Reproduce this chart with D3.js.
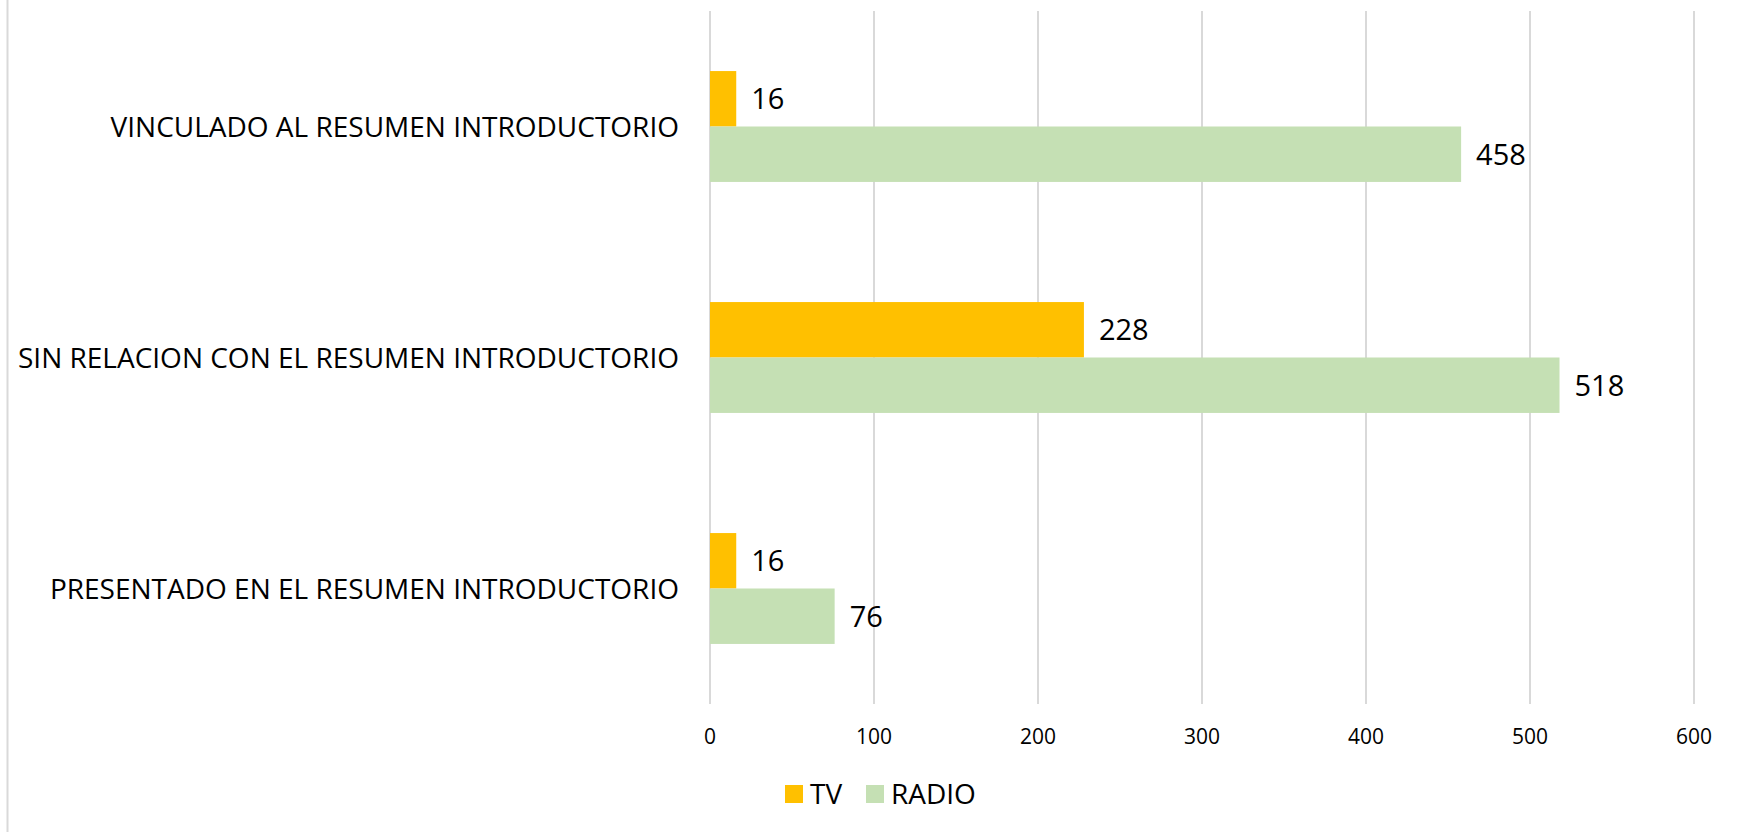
<!DOCTYPE html>
<html>
<head>
<meta charset="utf-8">
<script src="https://cdn.jsdelivr.net/npm/d3@7"></script>
<style>
  body { margin: 0; background: #fff; }
  text { font-family: "Open Sans", "DejaVu Sans", sans-serif; fill: #000; }
</style>
</head>
<body>
<script>
// data
var categories = ["VINCULADO AL RESUMEN INTRODUCTORIO",
                  "SIN RELACION CON EL RESUMEN INTRODUCTORIO",
                  "PRESENTADO EN EL RESUMEN INTRODUCTORIO"];
var seriesNames = ["TV", "RADIO"];
var tvValues = [16, 228, 16];
var radioValues = [458, 518, 76];
var xTicks = [0, 100, 200, 300, 400, 500, 600];
var seriesColors = ["#FFC000", "#C5E0B4"];

var W = 1738, H = 832;
var margin = {left: 710, right: 44, top: 11, bottom: 128};

var svg = d3.select("body").append("svg")
  .attr("width", W)
  .attr("height", H);

// left frame line
svg.append("line")
  .attr("x1", 7.5).attr("x2", 7.5)
  .attr("y1", 0).attr("y2", H)
  .attr("stroke", "#D9D9D9").attr("stroke-width", 2);

var x = d3.scaleLinear()
  .domain([0, 600])
  .range([margin.left, W - margin.right]);

var y = d3.scaleBand()
  .domain(categories)
  .range([margin.top, H - margin.bottom])
  .paddingInner(0.52)
  .paddingOuter(0.26);

var ySub = d3.scaleBand()
  .domain(seriesNames)
  .range([0, y.bandwidth()]);

var color = d3.scaleOrdinal().domain(seriesNames).range(seriesColors);

// gridlines
svg.append("g").selectAll("line")
  .data(xTicks)
  .enter().append("line")
    .attr("x1", function(d) { return x(d); })
    .attr("x2", function(d) { return x(d); })
    .attr("y1", margin.top)
    .attr("y2", H - margin.bottom)
    .attr("stroke", "#D9D9D9")
    .attr("stroke-width", 2);

// x tick labels
svg.append("g").selectAll("text")
  .data(xTicks)
  .enter().append("text")
    .attr("x", function(d) { return x(d); })
    .attr("y", 744)
    .attr("text-anchor", "middle")
    .style("font-size", "21px")
    .text(function(d) { return d; });

// rows of data
var rows = categories.map(function(c, i) {
  return {cat: c, values: [
    {key: "TV", value: tvValues[i]},
    {key: "RADIO", value: radioValues[i]}
  ]};
});

var group = svg.append("g").selectAll("g")
  .data(rows)
  .enter().append("g")
    .attr("transform", function(d) { return "translate(0," + y(d.cat) + ")"; });

group.selectAll("rect")
  .data(function(d) { return d.values; })
  .enter().append("rect")
    .attr("x", x(0))
    .attr("y", function(d) { return ySub(d.key); })
    .attr("width", function(d) { return x(d.value) - x(0); })
    .attr("height", ySub.bandwidth())
    .attr("fill", function(d) { return color(d.key); });

// data labels
group.selectAll("text.val")
  .data(function(d) { return d.values; })
  .enter().append("text")
    .attr("class", "val")
    .attr("x", function(d) { return x(d.value) + 15; })
    .attr("y", function(d) { return ySub(d.key) + ySub.bandwidth() / 2; })
    .attr("dy", "0.36em")
    .style("font-size", "29px")
    .text(function(d) { return d.value; });

// category labels
svg.append("g").selectAll("text")
  .data(categories)
  .enter().append("text")
    .attr("x", 679)
    .attr("y", function(d) { return y(d) + y.bandwidth() / 2; })
    .attr("dy", "0.36em")
    .attr("text-anchor", "end")
    .style("font-size", "28px")
    .text(function(d) { return d; });

// legend
var legendX = [785, 866];
var legend = svg.append("g").selectAll("g")
  .data(seriesNames)
  .enter().append("g")
    .attr("transform", function(d, i) { return "translate(" + legendX[i] + ",785)"; });

legend.append("rect")
  .attr("width", 18).attr("height", 18)
  .attr("fill", function(d) { return color(d); });

legend.append("text")
  .attr("x", 25)
  .attr("y", 19)
  .style("font-size", "28px")
  .text(function(d) { return d; });
</script>
</body>
</html>
